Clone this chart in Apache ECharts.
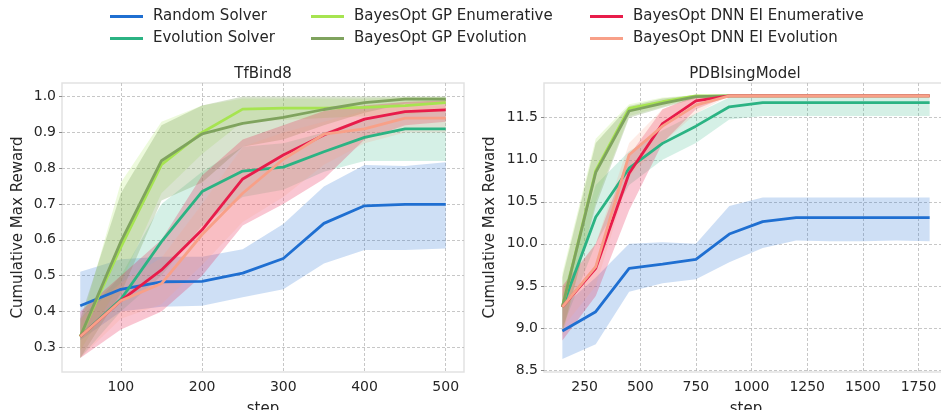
<!DOCTYPE html>
<html>
<head>
<meta charset="utf-8">
<script src="https://cdn.jsdelivr.net/npm/echarts@6/dist/echarts.min.js"></script>
<style>
  html, body { margin: 0; padding: 0; background: #fff; }
  #chart { width: 941px; height: 410px; }
</style>
</head>
<body>
<div id="chart"></div>
<script>
// ---- data ----
const names = ['Random Solver', 'Evolution Solver', 'BayesOpt GP Enumerative',
  'BayesOpt GP Evolution', 'BayesOpt DNN EI Enumerative', 'BayesOpt DNN EI Evolution'];

// TfBind8
const tfSteps = [50, 100, 150, 200, 250, 300, 350, 400, 450, 500];
const tfRandom = [0.416, 0.462, 0.483, 0.484, 0.507, 0.548, 0.646, 0.695, 0.699, 0.699];
const tfRandomLo = [0.32, 0.40, 0.413, 0.416, 0.44, 0.462, 0.534, 0.572, 0.572, 0.576];
const tfRandomHi = [0.511, 0.546, 0.553, 0.553, 0.574, 0.644, 0.749, 0.809, 0.806, 0.817];
const tfEvo = [0.33, 0.434, 0.595, 0.735, 0.792, 0.803, 0.846, 0.886, 0.91, 0.91];
const tfEvoLo = [0.27, 0.40, 0.50, 0.64, 0.72, 0.74, 0.79, 0.82, 0.82, 0.82];
const tfEvoHi = [0.38, 0.50, 0.70, 0.79, 0.86, 0.87, 0.90, 0.94, 0.96, 0.96];
const tfGpEnum = [0.33, 0.58, 0.81, 0.90, 0.965, 0.968, 0.968, 0.970, 0.975, 0.983];
const tfGpEnumLo = [0.29, 0.48, 0.73, 0.84, 0.93, 0.935, 0.94, 0.945, 0.95, 0.96];
const tfGpEnumHi = [0.36, 0.76, 0.93, 0.975, 0.995, 0.995, 0.995, 0.995, 0.998, 0.998];
const tfGpEvo = [0.33, 0.595, 0.821, 0.896, 0.925, 0.942, 0.964, 0.983, 0.993, 0.993];
const tfGpEvoLo = [0.27, 0.45, 0.71, 0.76, 0.86, 0.88, 0.92, 0.955, 0.98, 0.98];
const tfGpEvoHi = [0.38, 0.73, 0.92, 0.975, 1.0, 1.0, 1.0, 1.0, 1.0, 1.0];
const tfDnnEnum = [0.33, 0.43, 0.516, 0.628, 0.77, 0.837, 0.893, 0.937, 0.958, 0.963];
const tfDnnEnumLo = [0.27, 0.35, 0.40, 0.50, 0.64, 0.70, 0.77, 0.88, 0.92, 0.93];
const tfDnnEnumHi = [0.40, 0.50, 0.60, 0.78, 0.88, 0.92, 0.96, 0.975, 0.985, 0.99];
const tfDnnEvo = [0.33, 0.43, 0.478, 0.615, 0.73, 0.825, 0.895, 0.91, 0.94, 0.94];
const tfDnnEvoLo = [0.27, 0.38, 0.42, 0.53, 0.65, 0.72, 0.81, 0.87, 0.90, 0.90];
const tfDnnEvoHi = [0.38, 0.48, 0.55, 0.70, 0.86, 0.90, 0.93, 0.96, 0.975, 0.975];

// PDBIsingModel
const pdbSteps = [150, 300, 450, 600, 750, 900, 1050, 1200, 1350, 1500, 1650, 1800];
const pdbRandom = [8.963, 9.193, 9.709, 9.76, 9.815, 10.117, 10.264, 10.311, 10.311, 10.311, 10.311, 10.311];
const pdbRandomLo = [8.63, 8.805, 9.43, 9.53, 9.58, 9.78, 9.95, 10.04, 10.03, 10.03, 10.04, 10.03];
const pdbRandomHi = [9.25, 9.6, 10.0, 10.02, 10.0, 10.45, 10.55, 10.55, 10.55, 10.55, 10.55, 10.55];
const pdbEvo = [9.25, 10.32, 10.9, 11.195, 11.4, 11.63, 11.68, 11.68, 11.68, 11.68, 11.68, 11.68];
const pdbEvoLo = [9.0, 10.0, 10.7, 11.0, 11.2, 11.48, 11.52, 11.52, 11.52, 11.52, 11.52, 11.52];
const pdbEvoHi = [9.4, 10.7, 11.1, 11.35, 11.55, 11.74, 11.74, 11.74, 11.74, 11.74, 11.74, 11.74];
const pdbGpEnum = [9.25, 10.87, 11.61, 11.69, 11.76, 11.76, 11.76, 11.76, 11.76, 11.76, 11.76, 11.76];
const pdbGpEnumLo = [8.9, 10.5, 11.52, 11.63, 11.74, 11.76, 11.76, 11.76, 11.76, 11.76, 11.76, 11.76];
const pdbGpEnumHi = [9.65, 11.25, 11.66, 11.74, 11.77, 11.76, 11.76, 11.76, 11.76, 11.76, 11.76, 11.76];
const pdbGpEvo = [9.25, 10.85, 11.58, 11.67, 11.75, 11.76, 11.76, 11.76, 11.76, 11.76, 11.76, 11.76];
const pdbGpEvoLo = [8.95, 10.45, 11.5, 11.62, 11.73, 11.76, 11.76, 11.76, 11.76, 11.76, 11.76, 11.76];
const pdbGpEvoHi = [9.6, 11.2, 11.64, 11.73, 11.77, 11.76, 11.76, 11.76, 11.76, 11.76, 11.76, 11.76];
const pdbDnnEnum = [9.25, 9.71, 10.84, 11.43, 11.7, 11.76, 11.76, 11.76, 11.76, 11.76, 11.76, 11.76];
const pdbDnnEnumLo = [8.85, 9.38, 10.4, 11.2, 11.6, 11.76, 11.76, 11.76, 11.76, 11.76, 11.76, 11.76];
const pdbDnnEnumHi = [9.5, 10.0, 11.05, 11.6, 11.76, 11.76, 11.76, 11.76, 11.76, 11.76, 11.76, 11.76];
const pdbDnnEvo = [9.25, 9.73, 11.06, 11.4, 11.65, 11.76, 11.76, 11.76, 11.76, 11.76, 11.76, 11.76];
const pdbDnnEvoLo = [9.0, 9.5, 10.8, 11.2, 11.55, 11.76, 11.76, 11.76, 11.76, 11.76, 11.76, 11.76];
const pdbDnnEvoHi = [9.45, 10.0, 11.2, 11.6, 11.75, 11.76, 11.76, 11.76, 11.76, 11.76, 11.76, 11.76];

// tick labels
const tfXTicks = [100, 200, 300, 400, 500];
const tfYTicks = [0.3, 0.4, 0.5, 0.6, 0.7, 0.8, 0.9, 1.0];
const pdbXTicks = [250, 500, 750, 1000, 1250, 1500, 1750];
const pdbYTicks = [8.5, 9.0, 9.5, 10.0, 10.5, 11.0, 11.5];

// ---- styling ----
const colors = ['#1f6fd1', '#2bb383', '#a6e450', '#7fa35e', '#e81c4a', '#f8a088'];
const bandAlpha = [0.22, 0.2, 0.2, 0.3, 0.25, 0.2];
const font = 'DejaVu Sans';
const textColor = '#262626';

const tfSets = [
  [tfRandom, tfRandomLo, tfRandomHi], [tfEvo, tfEvoLo, tfEvoHi],
  [tfGpEnum, tfGpEnumLo, tfGpEnumHi], [tfGpEvo, tfGpEvoLo, tfGpEvoHi],
  [tfDnnEnum, tfDnnEnumLo, tfDnnEnumHi], [tfDnnEvo, tfDnnEvoLo, tfDnnEvoHi]
];
const pdbSets = [
  [pdbRandom, pdbRandomLo, pdbRandomHi], [pdbEvo, pdbEvoLo, pdbEvoHi],
  [pdbGpEnum, pdbGpEnumLo, pdbGpEnumHi], [pdbGpEvo, pdbGpEvoLo, pdbGpEvoHi],
  [pdbDnnEnum, pdbDnnEnumLo, pdbDnnEnumHi], [pdbDnnEvo, pdbDnnEvoLo, pdbDnnEvoHi]
];

function rgba(hex, a) {
  const n = parseInt(hex.slice(1), 16);
  return `rgba(${(n >> 16) & 255},${(n >> 8) & 255},${n & 255},${a})`;
}

// band = one polygon: upper edge left->right, lower edge right->left
function bandSeries(steps, lo, hi, gi, i) {
  return {
    type: 'custom', xAxisIndex: gi, yAxisIndex: gi, silent: true, z: 1,
    clip: true,
    data: steps.map((s, k) => [s, lo[k], hi[k]]),
    encode: { x: 0, y: [1, 2] },
    renderItem: (params, api) => {
      if (params.dataIndex !== 0) return null;
      const pts = [];
      for (let k = 0; k < steps.length; k++) pts.push(api.coord([steps[k], hi[k]]));
      for (let k = steps.length - 1; k >= 0; k--) pts.push(api.coord([steps[k], lo[k]]));
      return {
        type: 'polygon',
        shape: { points: pts },
        style: { fill: rgba(colors[i], bandAlpha[i]), stroke: null }
      };
    }
  };
}

function buildSeries(steps, sets, gi) {
  const out = [];
  sets.forEach(([mean, lo, hi], i) => out.push(bandSeries(steps, lo, hi, gi, i)));
  sets.forEach(([mean], i) => {
    out.push({
      name: names[i], type: 'line', xAxisIndex: gi, yAxisIndex: gi,
      data: steps.map((s, k) => [s, mean[k]]), symbol: 'none', silent: true,
      color: colors[i], lineStyle: { color: colors[i], width: 2.8 }, z: 3
    });
  });
  return out;
}

const gridLine = { show: true, lineStyle: { color: '#b9b9b9', width: 0.8, type: [3, 2] } };

function xAxis(gi, min, max, ticks) {
  return {
    type: 'value', gridIndex: gi, min, max,
    name: 'step', nameLocation: 'middle', nameGap: 30,
    nameTextStyle: { fontFamily: font, fontSize: 15, color: textColor },
    axisLine: { show: false },
    axisTick: { show: false, customValues: ticks },
    axisLabel: { customValues: ticks, fontFamily: font, fontSize: 14, color: textColor, margin: 8,
      formatter: v => String(v) },
    splitLine: gridLine
  };
}

function yAxis(gi, min, max, ticks, gap) {
  return {
    type: 'value', gridIndex: gi, min, max,
    name: 'Cumulative Max Reward', nameLocation: 'middle', nameGap: gap, nameRotate: 90,
    nameTextStyle: { fontFamily: font, fontSize: 15, color: textColor },
    axisLine: { show: false },
    axisTick: { show: true, length: 3, customValues: ticks, lineStyle: { color: '#8c8c8c' } },
    axisLabel: { customValues: ticks, fontFamily: font, fontSize: 14, color: textColor, margin: 6,
      formatter: v => v.toFixed(1) },
    splitLine: gridLine
  };
}

const legendBase = {
  orient: 'vertical', top: 9, padding: 0, itemWidth: 33, itemHeight: 3, itemGap: 7, icon: 'rect',
  textStyle: { fontFamily: font, fontSize: 15, color: textColor, padding: [0, 0, 0, 5] }
};

const titleStyle = { fontFamily: font, fontSize: 15, fontWeight: 'normal', color: textColor };

const chart = echarts.init(document.getElementById('chart'), null, { renderer: 'canvas' });

chart.setOption({
  animation: false,
  backgroundColor: '#ffffff',
  title: [
    { text: 'TfBind8', left: 263, top: 67, padding: 0, textAlign: 'center', textStyle: titleStyle },
    { text: 'PDBIsingModel', left: 745, top: 67, padding: 0, textAlign: 'center', textStyle: titleStyle }
  ],
  legend: [
    Object.assign({}, legendBase, { left: 110, data: [names[0], names[1]] }),
    Object.assign({}, legendBase, { left: 311, data: [names[2], names[3]] }),
    Object.assign({}, legendBase, { left: 590, data: [names[4], names[5]] })
  ],
  grid: [
    { left: 62, top: 83, width: 402, height: 289, outerBoundsMode: 'none', containLabel: false,
      show: true, borderColor: '#e2e2e2', borderWidth: 1.5 },
    { left: 544, top: 83, width: 404, height: 289, outerBoundsMode: 'none', containLabel: false,
      show: true, borderColor: '#e2e2e2', borderWidth: 1.5 }
  ],
  xAxis: [
    xAxis(0, 27.5, 522.5, tfXTicks),
    xAxis(1, 67.5, 1882.5, pdbXTicks)
  ],
  yAxis: [
    yAxis(0, 0.231, 1.038, tfYTicks, 36),
    yAxis(1, 8.476, 11.913, pdbYTicks, 46)
  ],
  series: buildSeries(tfSteps, tfSets, 0).concat(buildSeries(pdbSteps, pdbSets, 1))
});
</script>
</body>
</html>
